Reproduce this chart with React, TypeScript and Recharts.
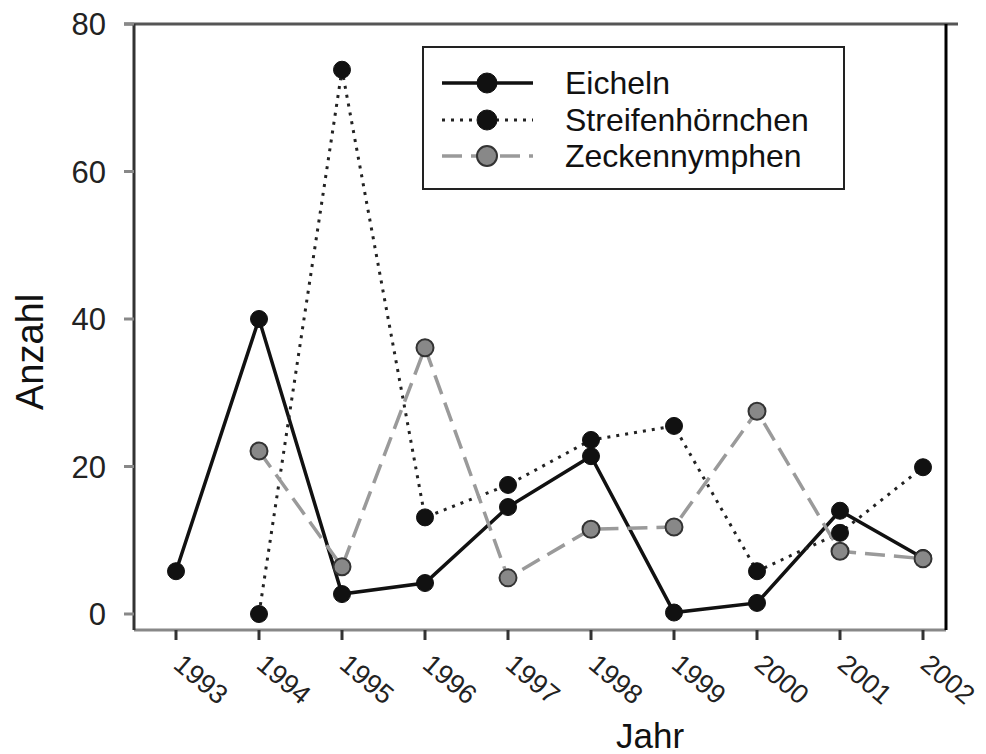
import React from 'react';
import {
  LineChart, Line, XAxis, YAxis, Legend, ReferenceLine,
} from 'recharts';

/* ─────── Daten ─────── */
const years = ['1993', '1994', '1995', '1996', '1997', '1998', '1999', '2000', '2001', '2002'];
const eicheln = [5.8, 40, 2.7, 4.2, 14.5, 21.4, 0.2, 1.5, 14, 7.6];
const streifenhoernchen = [null, 0, 73.8, 13.1, 17.5, 23.6, 25.5, 5.8, 11, 19.9];
const zeckennymphen = [null, 22.1, 6.4, 36.1, 4.9, 11.5, 11.8, 27.5, 8.5, 7.5];
const yTicks = [0, 20, 40, 60, 80];

const data = years.map((year, i) => ({
  year,
  eicheln: eicheln[i],
  streifen: streifenhoernchen[i],
  zecken: zeckennymphen[i],
}));

const FONT = '"Liberation Sans", Arial, Helvetica, sans-serif';

/* ─────── Stile der Reihen ─────── */
const seriesStyle: Record<string, any> = {
  eicheln: { stroke: '#111', width: 3.5, dash: undefined, fill: '#111', dotStroke: '#111', dotWidth: 1 },
  streifen: { stroke: '#222', width: 3, dash: '3 6', fill: '#111', dotStroke: '#111', dotWidth: 1 },
  zecken: { stroke: '#9a9a9a', width: 3.5, dash: '20 9', fill: '#888', dotStroke: '#333', dotWidth: 2 },
};
const legendOrder = ['eicheln', 'streifen', 'zecken'];

/* ─────── Achsen-Ticks ─────── */
const XTick = ({ x, y, payload }: any) => {
  const ax = x - 4;
  const ay = y + 25;
  return (
    <text x={ax} y={ay} transform={`rotate(40 ${ax} ${ay})`} textAnchor="start"
      fontSize={27} fontFamily={FONT} fill="#222">
      {payload.value}
    </text>
  );
};

/* ─────── Legende ─────── */
const LegendBox = ({ payload }: any) => {
  const items = [...(payload || [])].sort(
    (a: any, b: any) => legendOrder.indexOf(a.dataKey) - legendOrder.indexOf(b.dataKey),
  );
  return (
    <div style={{ paddingTop: 17 }}>
      {items.map((item: any) => {
        const s = seriesStyle[item.dataKey];
        return (
          <div key={item.dataKey} style={{ display: 'flex', alignItems: 'center', height: 36.5 }}>
            <svg width={111} height={30} style={{ flexShrink: 0 }}>
              <line x1={18} y1={15} x2={109} y2={15} stroke={s.stroke}
                strokeWidth={s.width} strokeDasharray={s.dash} />
              <circle cx={63} cy={15} r={10} fill={s.fill} stroke={s.dotStroke} strokeWidth={s.dotWidth} />
            </svg>
            <span style={{
              marginLeft: 30, fontSize: 32, fontFamily: FONT, color: '#111', lineHeight: '36px',
            }}>
              {item.value}
            </span>
          </div>
        );
      })}
    </div>
  );
};

export default function App() {
  return (
    <div style={{ position: 'absolute', left: 0, top: 0, width: 986, height: 754, background: '#fff' }}>
      <LineChart width={986} height={754} data={data}
        margin={{ top: 24, right: 20, bottom: 34, left: 34 }}>
        <XAxis
          dataKey="year"
          padding={{ left: 42, right: 23 }}
          height={90}
          tickSize={10}
          axisLine={{ stroke: '#888', strokeWidth: 3 }}
          tickLine={{ stroke: '#333', strokeWidth: 3 }}
          tick={<XTick />}
          interval={0}
          label={{
            content: ({ viewBox }: any) => (
              <text x={viewBox.x + viewBox.width / 2 + 110} y={viewBox.y + 118} textAnchor="middle"
                fontSize={35} fontFamily={FONT} fill="#111">Jahr</text>
            ),
          }}
        />
        <YAxis
          width={100}
          domain={[-2.17, 80]}
          ticks={yTicks}
          allowDataOverflow
          tickSize={10}
          tickMargin={18}
          axisLine={{ stroke: '#333', strokeWidth: 3 }}
          tickLine={{ stroke: '#888', strokeWidth: 3 }}
          tick={{ fontSize: 31, fontFamily: FONT, fill: '#222' }}
          label={{
            content: ({ viewBox }: any) => {
              const cx = viewBox.x - 4;
              const cy = viewBox.y + viewBox.height / 2 + 25;
              return (
                <text x={cx} y={cy} transform={`rotate(-90 ${cx} ${cy})`} textAnchor="middle"
                  dominantBaseline="central" fontSize={38} fontFamily={FONT} fill="#111">Anzahl</text>
              );
            },
          }}
        />
        <YAxis
          yAxisId="r"
          orientation="right"
          width={20}
          domain={[-2.17, 80]}
          ticks={yTicks}
          allowDataOverflow
          tickSize={12}
          tick={false}
          axisLine={{ stroke: '#000', strokeWidth: 3 }}
          tickLine={{ stroke: '#888', strokeWidth: 3 }}
        />
        <ReferenceLine
          y={80}
          shape={(p: any) => (
            <line x1={p.x1 - 10} y1={p.y1} x2={p.x2 + 12} y2={p.y2} stroke="#555" strokeWidth={3} />
          )}
        />
        <Legend
          layout="vertical"
          align="center"
          verticalAlign="middle"
          content={<LegendBox />}
          wrapperStyle={{
            left: 422, top: 46, width: 423, height: 144, border: '2px solid #222',
            boxSizing: 'border-box', background: '#fff',
          }}
        />
        <Line dataKey="eicheln" name="Eicheln" stroke={seriesStyle.eicheln.stroke}
          strokeWidth={seriesStyle.eicheln.width} isAnimationActive={false}
          dot={{ r: 8.5, fill: '#111', stroke: '#111', strokeWidth: 1 }} activeDot={false} />
        <Line dataKey="streifen" name="Streifenhörnchen" stroke={seriesStyle.streifen.stroke}
          strokeWidth={seriesStyle.streifen.width} strokeDasharray={seriesStyle.streifen.dash}
          isAnimationActive={false}
          dot={{ r: 8.5, fill: '#111', stroke: '#111', strokeWidth: 1, strokeDasharray: '' }} activeDot={false} />
        <Line dataKey="zecken" name="Zeckennymphen" stroke={seriesStyle.zecken.stroke}
          strokeWidth={seriesStyle.zecken.width} strokeDasharray={seriesStyle.zecken.dash}
          isAnimationActive={false}
          dot={{ r: 8.5, fill: '#888', stroke: '#333', strokeWidth: 2, strokeDasharray: '' }} activeDot={false} />
      </LineChart>
    </div>
  );
}
